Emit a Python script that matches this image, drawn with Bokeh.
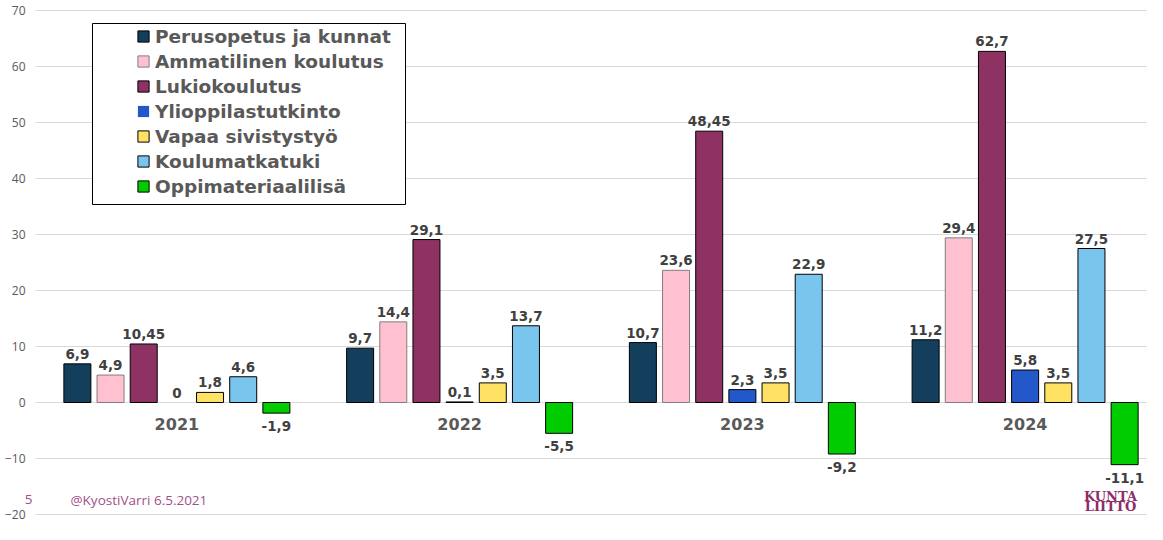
from bokeh.plotting import figure
from bokeh.models import ColumnDataSource, Range1d, Legend, LegendItem, BoxAnnotation, Label, FixedTicker
from bokeh.core.properties import value
from bokeh.embed import file_html
from bokeh.resources import INLINE

years = ["2021", "2022", "2023", "2024"]
series = ["Perusopetus ja kunnat", "Ammatilinen koulutus", "Lukiokoulutus",
          "Ylioppilastutkinto", "Vapaa sivistystyö", "Koulumatkatuki", "Oppimateriaalilisä"]
perusopetus = [6.9, 9.7, 10.7, 11.2]
ammatilinen = [4.9, 14.4, 23.6, 29.4]
lukio = [10.45, 29.1, 48.45, 62.7]
ylioppilas = [0, 0.1, 2.3, 5.8]
vapaa = [1.8, 3.5, 3.5, 3.5]
koulumatka = [4.6, 13.7, 22.9, 27.5]
oppimateriaali = [-1.9, -5.5, -9.2, -11.1]
data = [perusopetus, ammatilinen, lukio, ylioppilas, vapaa, koulumatka, oppimateriaali]
colors = ["#133F5C", "#FFC0CF", "#8E3163", "#2358CB", "#FFE164", "#7AC5EE", "#00CC00"]
line_colors = ["#000000", "#7F7F7F", "#000000", "#000000", "#000000", "#000000", "#000000"]
yticks = [-20, -10, 0, 10, 20, 30, 40, 50, 60, 70]

FONT = "DejaVu Sans"
W, H = 1147, 524
AX = 35                      # pixel position of the plotting area's left edge
GROUP_PX = 282.75
X_START = -AX / GROUP_PX
X_END = (W - AX) / GROUP_PX
PX_PER_UNIT = 504 / 90.0     # 70 at y=10, -20 at y=514
Y_TOP = 70 + 10 / PX_PER_UNIT
Y_BOT = Y_TOP - H / PX_PER_UNIT

def yval(py):
    return Y_TOP - py / PX_PER_UNIT

def xval(px):
    return (px - AX) / GROUP_PX

p = figure(x_range=Range1d(X_START, X_END), y_range=Range1d(Y_BOT, Y_TOP),
           width=W, height=H, output_backend="svg", toolbar_location=None,
           x_axis_location=None, min_border_left=0, min_border_right=0,
           min_border_top=0, min_border_bottom=0)
p.outline_line_color = None
p.xgrid.visible = False
p.ygrid.grid_line_color = "#D9D9D9"
p.ygrid.grid_line_width = 1
p.yaxis.fixed_location = 0
p.yaxis.ticker = FixedTicker(ticks=yticks)
p.yaxis.axis_line_color = None
p.yaxis.major_tick_line_color = None
p.yaxis.minor_tick_line_color = None
p.yaxis.major_tick_out = 0
p.yaxis.major_tick_in = 0
p.yaxis.major_label_standoff = 10
p.yaxis.major_label_text_font = "Open Sans"
p.yaxis.major_label_text_font_size = "12px"
p.yaxis.major_label_text_color = "#595959"

# white strip left of the plotting area so the grid starts at the axis
p.add_layout(BoxAnnotation(right=0, fill_color="white", fill_alpha=1.0,
                           line_alpha=0, level="underlay"))

def fmt(v):
    return f"{v:g}".replace(".", ",")

step = 0.1173
bw = 0.0955
centers = [i + 0.5 for i in range(len(years))]
items = []
for j, (name, vals, col, lc) in enumerate(zip(series, data, colors, line_colors)):
    off = (j - 3) * step
    src = ColumnDataSource(dict(
        x=[c + off for c in centers], v=vals, lbl=[fmt(v) for v in vals],
        base=["bottom" if v >= 0 else "top" for v in vals],
        yoff=[-5 if v >= 0 else 8 for v in vals],
        la=[0.0 if v == 0 else 1.0 for v in vals],
    ))
    r = p.vbar(x="x", top="v", width=bw, source=src,
               fill_color=col, line_color=lc, line_width=1, line_alpha="la")
    p.text(x="x", y="v", text="lbl", source=src,
           text_align="center", text_baseline="base", y_offset="yoff",
           text_font=value(FONT), text_font_style="bold", text_font_size="13.5px",
           text_color="#404040")
    items.append(LegendItem(label=name, renderers=[r]))

ysrc = ColumnDataSource(dict(x=centers, y=[0] * len(years), t=years))
p.text(x="x", y="y", text="t", source=ysrc, text_align="center",
       text_baseline="middle", y_offset=21, text_font=value(FONT),
       text_font_style="bold", text_font_size="16px", text_color="#595959")

box = BoxAnnotation(left=xval(92), right=xval(405), top=yval(23), bottom=yval(204),
                    fill_color="white", fill_alpha=1.0, line_color="black",
                    line_width=1, line_alpha=1.0)
p.add_layout(box)

ROW = 23
SP = 2
leg_h = 7 * ROW + 6 * SP
leg_top = 24.5
legend = Legend(items=items, location=(136, H - leg_top - leg_h), border_line_alpha=0,
                background_fill_alpha=0, padding=0, margin=0, spacing=SP,
                glyph_height=14, glyph_width=14, label_height=ROW, label_standoff=5,
                label_text_font=FONT, label_text_font_style="bold",
                label_text_font_size="18.5px", label_text_color="#595959")
p.add_layout(legend)

p.add_layout(Label(x=xval(32), y=-17.4, text="5", text_align="right",
                   text_baseline="middle", text_font="Open Sans",
                   text_font_size="13.5px", text_color="#A0508A"))
p.add_layout(Label(x=xval(70), y=-17.4, text="@KyostiVarri 6.5.2021", text_align="left",
                   text_baseline="middle", text_font="Open Sans",
                   text_font_size="13.5px", text_color="#A0508A"))
p.add_layout(Label(x=xval(1110), y=-16.7, text="KUNTA", text_align="center",
                   text_baseline="middle", text_font="DejaVu Serif", text_font_style="bold",
                   text_font_size="13px", text_color="#8E2C6A"))
p.add_layout(Label(x=xval(1110), y=-18.6, text="LIITTO", text_align="center",
                   text_baseline="middle", text_font="DejaVu Serif", text_font_style="bold",
                   text_font_size="13px", text_color="#8E2C6A"))

open("out.html", "w").write(file_html(p, INLINE))
